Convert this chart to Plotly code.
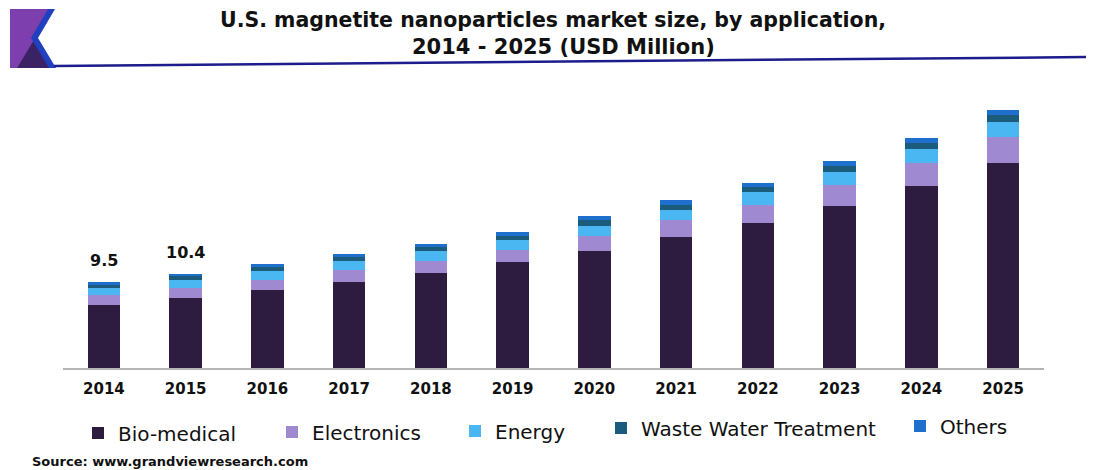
import plotly.graph_objects as go

years = ["2014", "2015", "2016", "2017", "2018", "2019", "2020", "2021", "2022", "2023", "2024", "2025"]
bio_medical = [7.0, 7.7, 8.6, 9.5, 10.5, 11.7, 12.9, 14.4, 16.0, 17.9, 20.1, 22.6]
electronics = [1.0, 1.1, 1.1, 1.3, 1.3, 1.3, 1.7, 1.9, 2.0, 2.3, 2.5, 2.9]
energy = [0.8, 0.9, 1.0, 1.0, 1.1, 1.1, 1.1, 1.1, 1.4, 1.4, 1.5, 1.65]
waste_water = [0.4, 0.4, 0.45, 0.45, 0.45, 0.5, 0.6, 0.6, 0.55, 0.65, 0.7, 0.7]
others = [0.3, 0.3, 0.35, 0.35, 0.35, 0.4, 0.5, 0.5, 0.45, 0.55, 0.6, 0.6]
labelled_years = ["2014", "2015"]

series = [
    ("Bio-medical", bio_medical, "#2e1b40"),
    ("Electronics", electronics, "#9f8ad2"),
    ("Energy", energy, "#4ab6f2"),
    ("Waste Water Treatment", waste_water, "#1b5b7c"),
    ("Others", others, "#1f70cc"),
]

# page body has an 8px margin; work in reference-pixel coordinates and offset
OFF = 8
W, H = 1094 - OFF, 470 - OFF
ML, MR, MT, MB = 63 - OFF, 50, 96 - OFF, 102
PW, PH = W - ML - MR, H - MT - MB


def X(px):
    return (px - OFF - ML) / PW


def Y(py):
    return (H - MB - (py - OFF)) / PH


FONT = "DejaVu Sans"
fig = go.Figure()
legend_names = ["legend", "legend2", "legend3", "legend4", "legend5"]
for (name, vals, col), lg in zip(series, legend_names):
    fig.add_trace(go.Bar(x=years, y=vals, name=name, marker=dict(color=col, line=dict(width=0)),
                         legend=lg, hoverinfo="x+y+name"))

# legend positions (text start px, center py)
leg_pos = [(118, 433), (312, 432), (495, 431), (641, 428), (940, 426)]
layout_legends = {}
for lg, (tx, ty) in zip(legend_names, leg_pos):
    layout_legends[lg] = dict(x=X(tx - 40), y=Y(ty), xanchor="left", yanchor="middle",
                              orientation="h", bgcolor="rgba(0,0,0,0)", borderwidth=0,
                              font=dict(family=FONT, size=20, color="#111111"))

annotations = []
totals = [sum(v) for v in zip(bio_medical, electronics, energy, waste_water, others)]
for yr in labelled_years:
    i = years.index(yr)
    annotations.append(dict(x=i, y=totals[i], xref="x", yref="y", text=f"{totals[i]:.1f}",
                            showarrow=False, yanchor="bottom", yshift=10,
                            font=dict(family=FONT, size=16, color="#111111", weight="bold")))

annotations.append(dict(x=X(553), y=Y(20), xref="paper", yref="paper", xanchor="center", yanchor="middle",
                        text="U.S. magnetite nanoparticles market size, by application,", showarrow=False,
                        font=dict(family=FONT, size=20.5, color="#111111", weight="bold")))
annotations.append(dict(x=X(563), y=Y(47), xref="paper", yref="paper", xanchor="center", yanchor="middle",
                        text="2014 - 2025 (USD Million)", showarrow=False,
                        font=dict(family=FONT, size=21, color="#111111", weight="bold")))
annotations.append(dict(x=X(30), y=Y(461), xref="paper", yref="paper", xanchor="left", yanchor="middle",
                        text="Source: www.grandviewresearch.com", showarrow=False,
                        font=dict(family=FONT, size=13, color="#111111", weight="bold")))


def path(points):
    return "M " + " L ".join(f"{X(a):.5f},{Y(b):.5f}" for a, b in points) + " Z"


shapes = [
    dict(type="path", xref="paper", yref="paper", path=path([(10, 9), (52, 9), (35, 38), (52, 68), (10, 68)]),
         fillcolor="#7d3fae", line=dict(width=0)),
    dict(type="path", xref="paper", yref="paper", path=path([(17, 68), (34, 40), (50, 68)]),
         fillcolor="#3b2264", line=dict(width=0)),
    dict(type="path", xref="paper", yref="paper",
         path=path([(48, 9), (55, 9), (38, 38), (56, 68), (49, 68), (31, 38)]),
         fillcolor="#2140c0", line=dict(width=0)),
    dict(type="line", xref="paper", yref="paper", x0=X(54), y0=Y(66), x1=X(1094), y1=Y(57),
         line=dict(color="#1c1c8c", width=2.5)),
]

fig.update_layout(
    width=W, height=H,
    margin=dict(l=ML, r=MR, t=MT, b=MB, autoexpand=False),
    barmode="stack", bargap=0.6,
    plot_bgcolor="white", paper_bgcolor="white",
    showlegend=True,
    annotations=annotations, shapes=shapes,
    xaxis=dict(type="category", range=[-0.5, 11.5], showgrid=False, showline=True, linecolor="#b4b4b4",
               linewidth=2, ticks="outside", ticklen=6, tickcolor="rgba(0,0,0,0)",
               tickfont=dict(family=FONT, size=15, color="#111111", weight="bold")),
    yaxis=dict(range=[0, 30], visible=False, showgrid=False),
    **layout_legends,
)

fig.write_html("out.html")
